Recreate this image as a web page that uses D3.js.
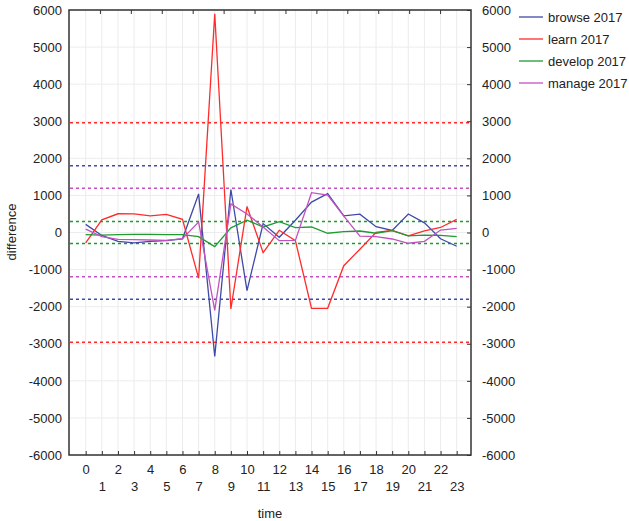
<!DOCTYPE html>
<html>
<head>
<meta charset="utf-8">
<script src="https://cdn.jsdelivr.net/npm/d3@7"></script>
<style>
  body { margin: 0; background: #fff; }
  text { font-family: Arial, "Liberation Sans", sans-serif; fill: #222; }
</style>
</head>
<body>
<script>
// Hourly values.
var hours = d3.range(0, 24);
var browse = [220, -80, -240, -280, -240, -220, -170, 1040, -3340, 1160, -1570, 240, -130,
              330, 820, 1050, 450, 495, 156, 55, 500, 260, -170, -370];
var learn = [-280, 340, 505, 500, 450, 490, 355, -1230, 5900, -2060, 700, -545, 60,
             -220, -2045, -2045, -895, -450, 5, 55, -90, 45, 135, 356];
var develop = [-60, -70, -60, -50, -50, -55, -60, -110, -380, 125, 330, 150, 290,
               130, 148, -20, 22, 40, -20, 50, -90, -70, -76, -113];
var manage = [90, -113, -183, -190, -202, -210, -167, 283, -2100, 770, 500, 150, -220,
              -215, 1073, 1011, 440, -100, -113, -175, -290, -238, 67, 112];
// Control limits drawn as dashed lines (+/-).
var limits = [2960, 1800, 1195, 295];

var seriesNames = ["browse 2017", "learn 2017", "develop 2017", "manage 2017"];
var seriesValues = [browse, learn, develop, manage];
var colors = ["#3f4aa8", "#ff2b2b", "#1f9a33", "#c252c2"];
var yTicks = d3.range(-6000, 6001, 1000);

var width = 629, height = 521;
var plotLeft = 69, plotRight = 471, plotTop = 10, plotBottom = 455;

var svg = d3.select("body")
            .append("svg")
            .attr("width", width)
            .attr("height", height);

var xScale = d3.scaleLinear().domain([0, 23]).range([85.7, 456.7]);
var yScale = d3.scaleLinear().domain([-6000, 6000]).range([plotBottom, plotTop]);
var plainNum = function(d) {return String(d);};

// Grid
svg.append("g")
   .selectAll("line")
   .data(hours)
   .enter()
   .append("line")
   .attr("x1", function(d) {return xScale(d);})
   .attr("x2", function(d) {return xScale(d);})
   .attr("y1", plotTop)
   .attr("y2", plotBottom)
   .attr("stroke", "#ececec");

svg.append("g")
   .selectAll("line")
   .data(yTicks)
   .enter()
   .append("line")
   .attr("x1", plotLeft)
   .attr("x2", plotRight)
   .attr("y1", function(d) {return yScale(d);})
   .attr("y2", function(d) {return yScale(d);})
   .attr("stroke", "#ececec");

// Dashed limit lines
var limitColors = [colors[1], colors[0], colors[3], colors[2]];
limits.forEach(function(v, i) {
    [v, -v].forEach(function(val) {
        svg.append("line")
           .attr("x1", plotLeft + 1)
           .attr("x2", plotRight - 1)
           .attr("y1", yScale(val))
           .attr("y2", yScale(val))
           .attr("stroke", limitColors[i])
           .attr("stroke-width", 1.6)
           .attr("stroke-dasharray", "3,3");
    });
});

// Series lines
var line = d3.line()
             .x(function(d, i) {return xScale(hours[i]);})
             .y(function(d) {return yScale(d);});

seriesValues.forEach(function(vals, i) {
    svg.append("path")
       .datum(vals)
       .attr("d", line)
       .attr("fill", "none")
       .attr("stroke", colors[i])
       .attr("stroke-width", 1.3);
});

// Axes
var leftAxis = svg.append("g")
   .attr("transform", "translate(" + plotLeft + ",0)")
   .call(d3.axisLeft(yScale).tickValues(yTicks).tickSize(0).tickPadding(7).tickFormat(plainNum));
var rightAxis = svg.append("g")
   .attr("transform", "translate(" + plotRight + ",0)")
   .call(d3.axisRight(yScale).tickValues(yTicks).tickSize(-4).tickPadding(11).tickFormat(plainNum));
var bottomAxis = svg.append("g")
   .attr("transform", "translate(0," + plotBottom + ")")
   .call(d3.axisBottom(xScale).tickValues(hours).tickSize(-4).tickFormat(plainNum));
var topAxis = svg.append("g")
   .attr("transform", "translate(0," + plotTop + ")")
   .call(d3.axisTop(d3.scaleLinear().domain([0, 13]).range([plotLeft, plotRight]))
           .tickValues(d3.range(1, 13)).tickSize(-4).tickFormat(""));

[leftAxis, rightAxis, bottomAxis, topAxis].forEach(function(a) {
    a.select(".domain").remove();
    a.selectAll("line").attr("stroke", "#333");
    a.selectAll("text").style("font-size", "13px").attr("fill", "#222");
});

bottomAxis.selectAll("text")
   .attr("y", function(d) {return d % 2 === 0 ? 10 : 27;});

// Frame
svg.append("rect")
   .attr("x", plotLeft)
   .attr("y", plotTop)
   .attr("width", plotRight - plotLeft)
   .attr("height", plotBottom - plotTop)
   .attr("fill", "none")
   .attr("stroke", "#333")
   .attr("stroke-width", 1.5);

// Axis titles
svg.append("text")
   .attr("x", 270)
   .attr("y", 518)
   .attr("text-anchor", "middle")
   .style("font-size", "13px")
   .text("time");

svg.append("text")
   .attr("transform", "translate(16,232) rotate(-90)")
   .attr("text-anchor", "middle")
   .style("font-size", "13px")
   .text("difference");

// Legend
var legend = svg.append("g")
   .selectAll("g")
   .data(seriesNames)
   .enter()
   .append("g")
   .attr("transform", function(d, i) {return "translate(519," + (17 + i * 22) + ")";});

legend.append("line")
   .attr("x1", 0)
   .attr("x2", 24)
   .attr("stroke", function(d, i) {return colors[i];})
   .attr("stroke-width", 1.3);

legend.append("text")
   .attr("x", 29)
   .attr("dy", "0.35em")
   .style("font-size", "13px")
   .text(function(d) {return d;});
</script>
</body>
</html>
